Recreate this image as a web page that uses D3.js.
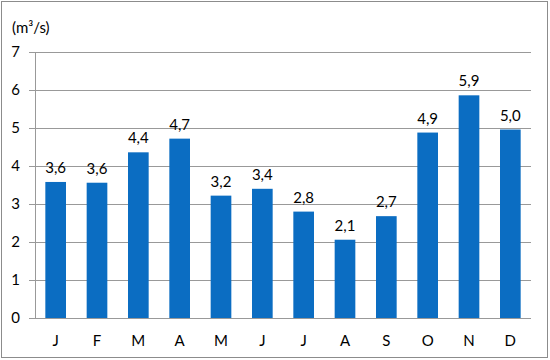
<!DOCTYPE html>
<html><head><meta charset="utf-8">
<script src="https://cdn.jsdelivr.net/npm/d3@7"></script>
<style>body{margin:0;background:#fff}svg{display:block}text{font-family:Lato,"Open Sans",sans-serif;fill:#000}</style>
</head><body><svg id="c" width="550" height="360"></svg>
<script>
const months = ["J","F","M","A","M","J","J","A","S","O","N","D"];
const flows = [3.58,3.56,4.36,4.72,3.22,3.40,2.80,2.06,2.68,4.88,5.86,4.96];
const yTicks = [0,1,2,3,4,5,6,7];
const unitLabel = "(m³/s)";

const svg = d3.select("#c");
const m = {l:35, r:19, t:52, b:42};
const W = 550, H = 360;
const FS = 15;
svg.append("rect").attr("x",1.5).attr("y",1.5).attr("width",546).attr("height",356)
  .attr("fill","#fff").attr("stroke","#8c8c8c");

const x = d3.scaleBand().domain(d3.range(months.length)).range([m.l, W-m.r]).paddingInner(0.5).paddingOuter(0.25);
const y = d3.scaleLinear().domain([0,7]).range([H-m.b, m.t]);

const ya = svg.append("g").attr("transform",`translate(${m.l},0)`)
  .call(d3.axisLeft(y).tickValues(yTicks).tickSize(6).tickFormat(d3.format("d")));
ya.select(".domain").attr("stroke","#999");
ya.selectAll(".tick line").attr("stroke","#999");
ya.selectAll(".tick text").attr("x",-15).attr("font-size",FS).style("font-family","Lato,'Open Sans',sans-serif");
svg.append("g").selectAll("line").data(yTicks).join("line")
  .attr("x1",m.l).attr("x2",W-m.r).attr("y1",d=>Math.round(y(d))+0.5).attr("y2",d=>Math.round(y(d))+0.5)
  .attr("stroke","#999");
ya.selectAll(".tick").attr("transform",d=>`translate(0,${Math.round(y(d))+0.5})`);

svg.append("g").selectAll("rect").data(flows).join("rect")
  .attr("x",(d,i)=>x(i)).attr("width",x.bandwidth())
  .attr("y",d=>y(d)).attr("height",d=>y(0)-y(d)).attr("fill","#0b6dc2");

const fmt = d=>d3.format(".1f")(d).replace(".",",");
svg.append("g").selectAll("text").data(flows).join("text")
  .attr("x",(d,i)=>x(i)+x.bandwidth()/2).attr("y",d=>y(d)-9)
  .attr("text-anchor","middle").attr("font-size",FS).text(fmt);

svg.append("g").selectAll("text").data(months).join("text")
  .attr("x",(d,i)=>x(i)+x.bandwidth()/2).attr("y",H-m.b+28)
  .attr("text-anchor","middle").attr("font-size",FS).text(d=>d);

svg.append("text").attr("x",12).attr("y",33).attr("font-size",FS).text(unitLabel);
</script></body></html>
